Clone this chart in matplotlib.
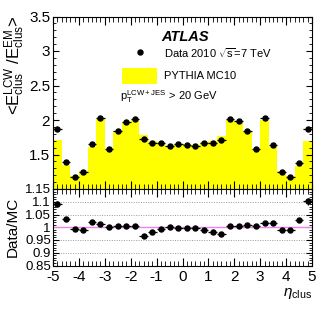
import numpy as np
import matplotlib
matplotlib.use("Agg")
import matplotlib.pyplot as plt
from matplotlib.ticker import MultipleLocator, FixedLocator, FuncFormatter

plt.rcParams['font.family'] = ['Liberation Sans', 'DejaVu Sans']
plt.rcParams['mathtext.fontset'] = 'custom'
plt.rcParams['mathtext.rm'] = 'Liberation Sans'
plt.rcParams['mathtext.it'] = 'Liberation Sans:italic'

# 30 bins of eta, width 1/3, from -5 to 5
bin_edges = np.linspace(-5, 5, 31)

data = [1.871, 1.389, 1.178, 1.244, 1.645, 2.035, 1.582, 1.847, 1.972, 2.020,
        1.727, 1.663, 1.673, 1.630, 1.649, 1.640, 1.626, 1.673, 1.663, 1.717,
        2.016, 1.982, 1.837, 1.582, 2.030, 1.635, 1.244, 1.172, 1.380, 1.871]

mc = [1.713, 1.347, 1.186, 1.255, 1.610, 2.009, 1.580, 1.836, 1.966, 2.014,
      1.788, 1.695, 1.685, 1.630, 1.651, 1.645, 1.631, 1.688, 1.692, 1.761,
      2.006, 1.972, 1.821, 1.573, 1.994, 1.609, 1.255, 1.183, 1.340, 1.699]

ratio = [1.092, 1.031, 0.993, 0.991, 1.022, 1.013, 1.001, 1.006, 1.003, 1.003,
         0.966, 0.981, 0.993, 1.000, 0.999, 0.997, 0.997, 0.991, 0.983, 0.975,
         1.006, 1.005, 1.009, 1.006, 1.018, 1.016, 0.991, 0.991, 1.030, 1.101]

ratio_err = [0.012, 0.004, 0.003, 0.003, 0.002, 0.002, 0.002, 0.002, 0.002, 0.002,
             0.002, 0.002, 0.002, 0.002, 0.002, 0.002, 0.002, 0.002, 0.002, 0.002,
             0.002, 0.002, 0.002, 0.002, 0.002, 0.002, 0.003, 0.003, 0.004, 0.012]

centers = 0.5 * (bin_edges[:-1] + bin_edges[1:])
half = 0.5 * np.diff(bin_edges)

W, H = 329, 316
fig = plt.figure(figsize=(W / 100, H / 100), dpi=100)
ax = fig.add_axes([53 / W, 1 - 189 / H, 259 / W, 172.5 / H])
rx = fig.add_axes([53 / W, 1 - 265.5 / H, 259 / W, 76.5 / H], sharex=ax)

fmt = FuncFormatter(lambda v, p: f"{v:g}")

# upper panel
ax.bar(bin_edges[:-1], mc, width=np.diff(bin_edges), align='edge',
       color='#ffff00', linewidth=0, zorder=1)
ax.errorbar(centers, data, xerr=half, yerr=0.004, fmt='o', color='black',
            markersize=3.6, elinewidth=0.9, capsize=0, zorder=3)
ax.set_xlim(-5, 5)
ax.set_ylim(1.0, 3.5)
ax.yaxis.set_major_locator(FixedLocator([1.5, 2, 2.5, 3, 3.5]))
ax.yaxis.set_minor_locator(MultipleLocator(0.1))
ax.yaxis.set_major_formatter(fmt)
ax.tick_params(labelbottom=False)
ax.set_ylabel(r'<E$_{\rm clus}^{\rm LCW}$ /E$_{\rm clus}^{\rm EM}$>', fontsize=12)
ax.yaxis.set_label_coords(-0.10, 0.72)

# legend-like texts
fig.text(161 / W, 1 - 37 / H, 'ATLAS', fontsize=10.5,
         fontweight='bold', style='italic', va='center', ha='left')
ax.plot([140 / W], [1 - 52 / H], 'o', color='black', markersize=3.6,
        transform=fig.transFigure, clip_on=False)
fig.text(164 / W, 1 - 53 / H, r'Data 2010 $\sqrt{\rm s}$=7 TeV',
         fontsize=8, va='center', ha='left')
fig.patches.append(plt.Rectangle((122 / W, 1 - 84 / H), 35 / W, 16 / H,
                                 transform=fig.transFigure, color='#ffff00', lw=0))
fig.text(164 / W, 1 - 76 / H, 'PYTHIA MC10', fontsize=8, va='center', ha='left')
fig.text(120 / W, 1 - 97 / H, r'p$_{\rm T}^{\rm LCW+JES}$ > 20 GeV',
         fontsize=8, va='center', ha='left')

# ratio panel
for g in [0.9, 0.95, 1.05, 1.1]:
    rx.axhline(g, color='#999999', lw=0.7, ls=(0, (1, 1.5)), zorder=1)
rx.axhline(1.0, color='#ee82ee', lw=1.0, zorder=2)
rx.errorbar(centers, ratio, xerr=half, yerr=ratio_err, fmt='o', color='black',
            markersize=3.6, elinewidth=0.9, capsize=0, zorder=3)
rx.set_ylim(0.85, 1.15)
rx.yaxis.set_major_locator(MultipleLocator(0.05))
rx.yaxis.set_minor_locator(MultipleLocator(0.01))
rx.yaxis.set_major_formatter(fmt)
rx.xaxis.set_major_locator(MultipleLocator(1))
rx.xaxis.set_minor_locator(MultipleLocator(1 / 6))
rx.xaxis.set_major_formatter(fmt)
rx.set_ylabel('Data/MC', fontsize=11)
rx.yaxis.set_label_coords(-0.127, 0.5)
rx.set_xlabel(r'$\eta_{\rm clus}$', fontsize=11, loc='right', labelpad=1)

for a in (ax, rx):
    a.tick_params(which='both', direction='in', top=True, right=True,
                  labelsize=11, pad=2)
    a.tick_params(axis='x', which='major', length=6)
    a.tick_params(axis='x', which='minor', length=3.5)
    a.tick_params(axis='y', which='major', length=4)
    a.tick_params(axis='y', which='minor', length=2)
    for s in a.spines.values():
        s.set_linewidth(0.8)
rx.tick_params(axis='y', labelsize=9.5, pad=1.5)
rx.tick_params(axis='x', pad=3.5)

fig.savefig('out.png', dpi=100)
